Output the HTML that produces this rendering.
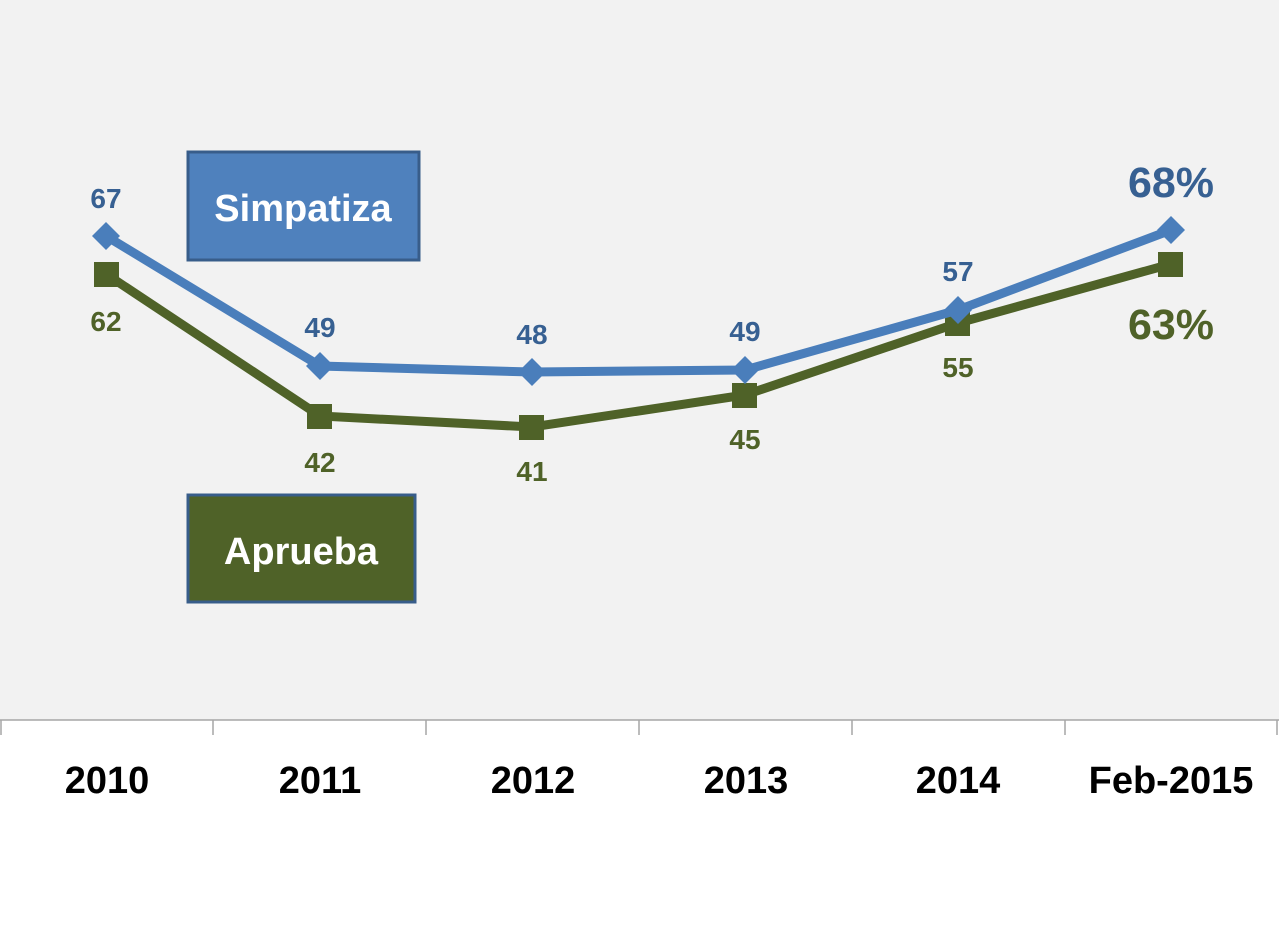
<!DOCTYPE html>
<html><head><style>body{margin:0;background:#fff}svg{display:block}</style></head>
<body>
<svg width="1279" height="929" xmlns="http://www.w3.org/2000/svg" font-family="Liberation Sans, sans-serif" font-weight="bold">
<rect x="0" y="0" width="1279" height="720" fill="#f2f2f2"/>
<line x1="0" y1="720" x2="1279" y2="720" stroke="#a6a6a6" stroke-width="1.5"/>
<g stroke="#a6a6a6" stroke-width="1.5">
<line x1="1" y1="720" x2="1" y2="735"/><line x1="213" y1="720" x2="213" y2="735"/><line x1="426" y1="720" x2="426" y2="735"/><line x1="639" y1="720" x2="639" y2="735"/><line x1="852" y1="720" x2="852" y2="735"/><line x1="1065" y1="720" x2="1065" y2="735"/><line x1="1277" y1="720" x2="1277" y2="735"/>
</g>
<g font-size="38" text-anchor="middle" fill="#000">
<text x="107" y="793">2010</text><text x="320" y="793">2011</text><text x="533" y="793">2012</text><text x="746" y="793">2013</text><text x="958" y="793">2014</text><text x="1171" y="793">Feb-2015</text>
</g>
<polyline points="106,274 320,416 532,427 745,395 958,323 1171,264" fill="none" stroke="#4f6228" stroke-width="9"/>
<g fill="#4f6228">
<rect x="94" y="262" width="25" height="25"/><rect x="307" y="404" width="25" height="25"/><rect x="519" y="415" width="25" height="25"/><rect x="732" y="383" width="25" height="25"/><rect x="945" y="311" width="25" height="25"/><rect x="1158" y="252" width="25" height="25"/>
</g>
<polyline points="106,236 320,366 532,372 745,370 958,310 1171,230" fill="none" stroke="#4a7ebb" stroke-width="9"/>
<g fill="#4a7ebb">
<polygon points="106,222 120,236 106,250 92,236"/><polygon points="320,352 334,366 320,380 306,366"/><polygon points="532,358 546,372 532,386 518,372"/><polygon points="745,356 759,370 745,384 731,370"/><polygon points="958,296 972,310 958,324 944,310"/><polygon points="1171,216 1185,230 1171,244 1157,230"/>
</g>
<g font-size="28" text-anchor="middle" fill="#376092">
<text x="106" y="208">67</text><text x="320" y="337">49</text><text x="532" y="344">48</text><text x="745" y="341">49</text><text x="958" y="281">57</text>
<text x="1171" y="197" font-size="43">68%</text>
</g>
<g font-size="28" text-anchor="middle" fill="#4f6228">
<text x="106" y="331">62</text><text x="320" y="472">42</text><text x="532" y="481">41</text><text x="745" y="449">45</text><text x="958" y="377">55</text>
<text x="1171" y="339" font-size="43">63%</text>
</g>
<rect x="188" y="152" width="231" height="108" fill="#4f81bd" stroke="#385d8a" stroke-width="3"/>
<text x="303" y="221" font-size="38" fill="#fff" text-anchor="middle">Simpatiza</text>
<rect x="188" y="495" width="227" height="107" fill="#4f6228" stroke="#385d8a" stroke-width="3"/>
<text x="301" y="564" font-size="38" fill="#fff" text-anchor="middle">Aprueba</text>
</svg>
</body></html>
